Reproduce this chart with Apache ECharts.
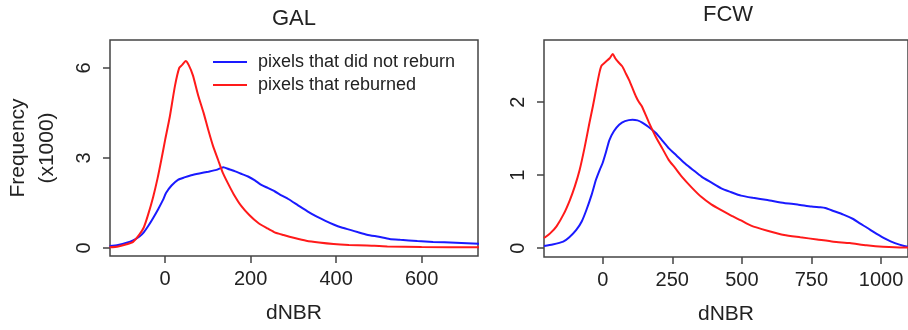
<!DOCTYPE html>
<html>
<head>
<meta charset="utf-8">
<script src="https://cdn.jsdelivr.net/npm/echarts@6/dist/echarts.min.js"></script>
<style>
  html, body { margin: 0; padding: 0; background: #fff; }
  #chart { width: 908px; height: 330px; }
</style>
</head>
<body>
<div id="chart"></div>
<script>
// dNBR 빈도 분포 (x1000)
const galNotReburn = [[-130,0.06],[-110,0.1],[-90,0.17],[-75,0.25],[-60,0.38],[-50,0.52],[-40,0.72],[-28,1.0],[-16,1.3],[-5,1.6],[2,1.83],[15,2.08],[30,2.27],[45,2.35],[61,2.42],[80,2.48],[101,2.54],[120,2.6],[136,2.69],[150,2.62],[164,2.55],[180,2.46],[194,2.38],[210,2.25],[225,2.1],[240,2.0],[257,1.88],[272,1.75],[288,1.63],[311,1.42],[333,1.22],[355,1.04],[375,0.9],[394,0.78],[413,0.68],[433,0.6],[452,0.52],[472,0.44],[500,0.37],[525,0.3],[550,0.27],[590,0.23],[627,0.2],[680,0.17],[735,0.14]];
const galReburn = [[-130,0.02],[-110,0.05],[-90,0.12],[-75,0.2],[-60,0.45],[-50,0.68],[-40,1.1],[-28,1.7],[-18,2.3],[-9,2.93],[0,3.6],[11,4.38],[23,5.4],[33,6.0],[40,6.1],[48,6.23],[55,6.1],[65,5.75],[77,5.1],[90,4.5],[101,3.93],[112,3.4],[124,2.93],[135,2.5],[147,2.15],[160,1.8],[178,1.4],[198,1.08],[218,0.83],[238,0.66],[256,0.52],[277,0.43],[303,0.33],[330,0.24],[360,0.18],[394,0.13],[430,0.1],[472,0.08],[520,0.05],[600,0.03],[735,0.02]];
const fcwNotReburn = [[-211,0.03],[-180,0.05],[-142,0.09],[-120,0.15],[-95,0.25],[-75,0.37],[-59,0.52],[-40,0.73],[-24,0.94],[-10,1.08],[0,1.17],[12,1.32],[24,1.48],[40,1.6],[59,1.69],[80,1.74],[107,1.76],[125,1.75],[142,1.72],[165,1.66],[190,1.58],[215,1.47],[237,1.37],[265,1.27],[296,1.16],[325,1.07],[355,0.98],[390,0.9],[426,0.82],[460,0.77],[497,0.72],[540,0.69],[592,0.66],[652,0.62],[700,0.6],[750,0.57],[782,0.56],[800,0.55],[829,0.51],[865,0.46],[900,0.4],[924,0.34],[950,0.28],[983,0.2],[1020,0.12],[1050,0.07],[1083,0.03],[1100,0.02]];
const fcwReburn = [[-211,0.14],[-190,0.2],[-166,0.3],[-140,0.47],[-118,0.66],[-100,0.85],[-83,1.07],[-65,1.38],[-48,1.71],[-35,1.95],[-24,2.17],[-12,2.4],[-4,2.5],[10,2.55],[25,2.6],[36,2.66],[45,2.6],[53,2.56],[70,2.49],[82,2.4],[95,2.3],[108,2.18],[119,2.08],[130,2.0],[141,1.94],[165,1.73],[190,1.53],[215,1.36],[237,1.21],[260,1.1],[284,0.98],[320,0.83],[355,0.7],[390,0.6],[426,0.52],[460,0.45],[497,0.38],[533,0.31],[592,0.24],[652,0.18],[710,0.15],[770,0.12],[829,0.09],[888,0.07],[948,0.04],[1007,0.02],[1083,0.01],[1100,0.01]];

const galXTicks = [0, 200, 400, 600];
const galYTicks = [0, 3, 6];
const fcwXTicks = [0, 250, 500, 750, 1000];
const fcwYTicks = [0, 1, 2];

const seriesNames = ['pixels that did not reburn', 'pixels that reburned'];
const panelTitles = ['GAL', 'FCW'];

const BLUE = '#1a1aff';
const RED = '#ff1a1a';
const INK = '#222';
const BOX = '#444';
const FONT = '"Liberation Sans", Arial, sans-serif';

const chart = echarts.init(document.getElementById('chart'));

function xAxisOf(gridIndex, min, max, ticks) {
    return {
        type: 'value', gridIndex, min, max,
        axisLine: { show: false, onZero: false },
        splitLine: { show: false },
        axisTick: { show: true, length: 7, customValues: ticks, lineStyle: { color: BOX, width: 1.5 } },
        axisLabel: { customValues: ticks, fontSize: 20, color: INK, fontFamily: FONT, margin: 13, formatter: v => String(v) },
        name: 'dNBR', nameLocation: 'middle', nameGap: 47,
        nameTextStyle: { fontSize: 21, color: INK, fontFamily: FONT }
    };
}

function yAxisOf(gridIndex, min, max, ticks, name) {
    return {
        type: 'value', gridIndex, min, max,
        axisLine: { show: false, onZero: false },
        splitLine: { show: false },
        axisTick: { show: true, length: 7, customValues: ticks, lineStyle: { color: BOX, width: 1.5 } },
        axisLabel: { customValues: ticks, rotate: 90, fontSize: 20, color: INK, fontFamily: FONT, margin: 16, formatter: v => String(v) },
        name: name || '', nameLocation: 'middle', nameRotate: 90, nameGap: 48,
        nameTextStyle: { fontSize: 21, lineHeight: 29, color: INK, fontFamily: FONT }
    };
}

function lineOf(name, data, color, idx) {
    return {
        name, type: 'line', xAxisIndex: idx, yAxisIndex: idx, data,
        symbol: 'none', smooth: 0.2,
        lineStyle: { color, width: 2 }, itemStyle: { color }
    };
}

const legendIcon = 'path://M0,0 L34,0 L34,2 L0,2 Z';

const option = {
    animation: false,
    textStyle: { fontFamily: FONT },
    title: [
        { text: panelTitles[0], left: 289, top: 3, textAlign: 'center', textStyle: { fontSize: 22, fontWeight: 'normal', color: INK, fontFamily: FONT } },
        { text: panelTitles[1], left: 723, top: -1, textAlign: 'center', textStyle: { fontSize: 22, fontWeight: 'normal', color: INK, fontFamily: FONT } }
    ],
    legend: {
        orient: 'vertical', left: 213, top: 53, padding: 0,
        itemWidth: 34, itemHeight: 18, itemGap: 5,
        textStyle: { fontSize: 18, color: INK, fontFamily: FONT, padding: [0, 0, 0, 6] },
        data: [
            { name: seriesNames[0], icon: legendIcon },
            { name: seriesNames[1], icon: legendIcon }
        ]
    },
    grid: [
        { left: 110, top: 40, width: 368, height: 216, show: true, borderColor: BOX, borderWidth: 1.5 },
        { left: 544, top: 40, width: 368, height: 217, show: true, borderColor: BOX, borderWidth: 1.5 }
    ],
    xAxis: [
        xAxisOf(0, -129, 732, galXTicks),
        xAxisOf(1, -211, 1097, fcwXTicks)
    ],
    yAxis: [
        yAxisOf(0, -0.27, 6.93, galYTicks, 'Frequency\n(x1000)'),
        yAxisOf(1, -0.12, 2.85, fcwYTicks)
    ],
    series: [
        lineOf(seriesNames[0], galNotReburn, BLUE, 0),
        lineOf(seriesNames[1], galReburn, RED, 0),
        lineOf(seriesNames[0], fcwNotReburn, BLUE, 1),
        lineOf(seriesNames[1], fcwReburn, RED, 1)
    ]
};

chart.setOption(option);
</script>
</body>
</html>
